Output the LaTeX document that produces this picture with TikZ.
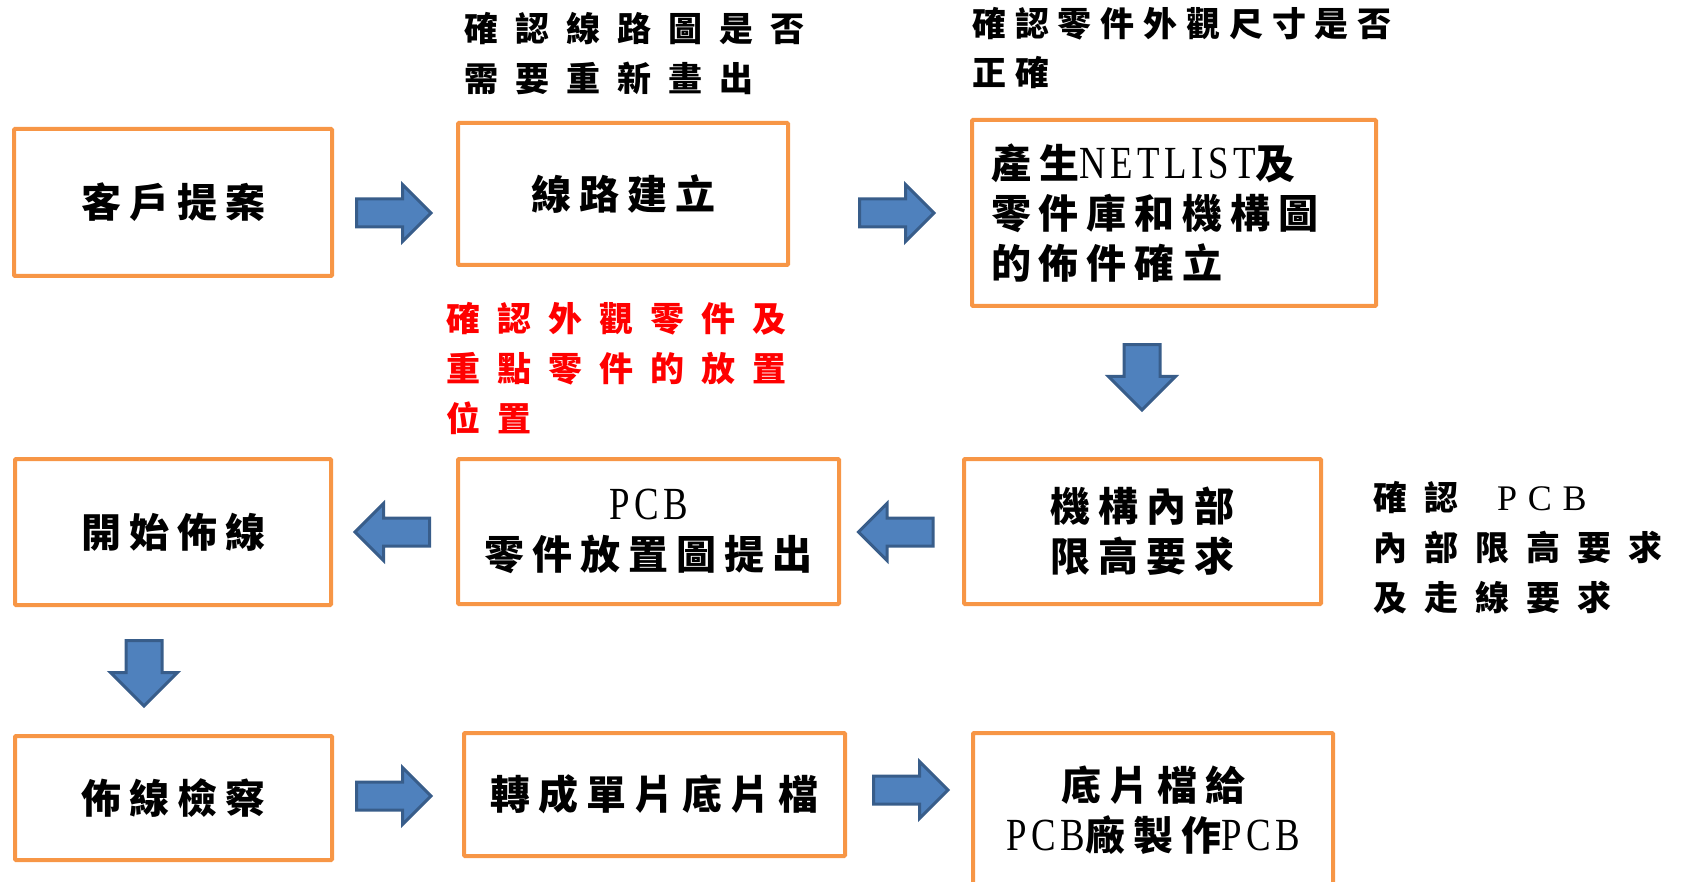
\documentclass[tikz,border=0pt]{standalone}
\usepackage{fontspec}
\usetikzlibrary{calc,shapes.arrows}
\newfontfamily\kai[LetterSpace=20]{Noto Sans CJK TC}
\newfontfamily\kaiw[LetterSpace=50]{Noto Sans CJK TC}
\newfontfamily\kain[LetterSpace=26]{Noto Sans CJK TC}
\newfontfamily\lat[FakeStretch=0.8,LetterSpace=10]{Liberation Serif}
\newfontfamily\latw[LetterSpace=30]{Liberation Serif}
\newcommand{\en}[1]{{\lat\mdseries\fontsize{46}{50}\selectfont #1}}
\definecolor{boxline}{HTML}{F79646}
\definecolor{arrowfill}{HTML}{4F81BD}
\definecolor{arrowline}{HTML}{385D8A}
\tikzset{%
  stepbox/.style={rectangle,draw=boxline,line width=4pt,rounded corners=1pt,
    inner sep=0pt,align=center,font=\kai\bfseries\fontsize{40}{50}\selectfont},
  note/.style={inner sep=0pt,align=left,anchor=west,
    font=\kaiw\bfseries\fontsize{34}{50}\selectfont},
  rarrow/.style={single arrow,draw=arrowline,fill=arrowfill,line width=3pt,
    inner xsep=0pt,inner ysep=12.5pt,single arrow head extend=14.5pt,
    minimum height=74.5pt,minimum width=0pt,anchor=tail},
  larrow/.style={rarrow,rotate=180},
  darrow/.style={rarrow,rotate=-90,inner ysep=16.5pt,
    single arrow head extend=15.5pt,minimum height=65.5pt}
}

\begin{document}
\begin{tikzpicture}[x=1pt,y=-1pt]
  \useasboundingbox (0,0) rectangle (1685,882);

  \node [stepbox,minimum width=318pt,minimum height=147pt] (b1) at (173,202.5) {客戶提案};
  \node [stepbox,minimum width=330pt,minimum height=142pt] (b2) at (623,194) {線路建立};
  \node [stepbox,minimum width=404pt,minimum height=186pt,align=left,text width=366pt]
    (b3) at (1174,213) {產生\en{NETLIST}及\\零件庫和機構圖\\的佈件確立};
  \node [stepbox,minimum width=357pt,minimum height=145pt] (b6) at (1142.5,531.5) {機構內部\\限高要求};
  \node [stepbox,minimum width=381pt,minimum height=145pt] (b5) at (648.5,531.5) {\en{PCB}\\零件放置圖提出};
  \node [stepbox,minimum width=316pt,minimum height=146pt] (b4) at (173,532) {開始佈線};
  \node [stepbox,minimum width=317pt,minimum height=124pt] (b7) at (173.5,798) {佈線檢察};
  \node [stepbox,minimum width=381pt,minimum height=123pt] (b8) at (654.5,794.5) {轉成單片底片檔};
  \node [stepbox,minimum width=360pt,minimum height=154pt] (b9) at (1153,810) {底片檔給\\\en{PCB}廠製作\en{PCB}};

  % block arrows between the steps
  \node [rarrow] (a12) at ($(b1.east)+(21,10.5)$) {};
  \node [rarrow] (a23) at ($(b2.east)+(68,19)$) {};
  \node [darrow] (a36) at ($(b3.south)+(-32,35)$) {};
  \node [larrow] (a65) at ($(b6.west)+(-27.5,0.5)$) {};
  \node [larrow] (a54) at ($(b5.west)+(-25,0.5)$) {};
  \node [darrow] (a47) at ($(b4.south)+(-29,32)$) {};
  \node [rarrow] (a78) at ($(b7.east)+(21,-2)$) {};
  \node [rarrow] (a89) at ($(b8.east)+(25,-4.5)$) {};

  \node [note] (chk2) at (464,53.5) {確認線路圖是否\\需要重新畫出};
  \node [note,font=\kain\bfseries\fontsize{34}{49}\selectfont] (chk3) at (972,48.5) {確認零件外觀尺寸是否\\正確};
  \node [note,text=red] (chk5) at (446,368.5) {確認外觀零件及\\重點零件的放置\\位置};
  \node [note] (chk6) at (1373,547.5) {確認\hspace{14pt} {\latw\mdseries\fontsize{36}{50}\selectfont PCB}\\內部限高要求\\及走線要求};
\end{tikzpicture}
\end{document}
